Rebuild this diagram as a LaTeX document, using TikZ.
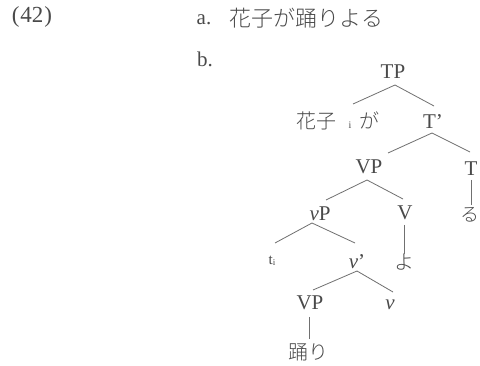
\documentclass[tikz,border=0pt]{standalone}
\usepackage{fontspec}
\setmainfont{Liberation Serif}
\newfontfamily\jp{Noto Sans CJK JP Light}
\usetikzlibrary{calc}
\definecolor{txt}{HTML}{4A4A4A}
\definecolor{ln}{HTML}{707070}
\begin{document}
\begin{tikzpicture}[x=1pt,y=-1pt,
  lab/.style={inner sep=0pt, text=txt, font=\fontsize{21}{21}\selectfont},
  jlab/.style={inner sep=0pt, text=txt, font=\jp\fontsize{20}{20}\selectfont},
  br/.style={draw=ln, line width=0.8pt}]
\useasboundingbox[fill=white] (0,0) rectangle (480,366);
% header
\node[lab, font=\fontsize{23}{23}\selectfont] (num) at (32,17) {(\kern1pt42\kern1pt)};
\node[lab] (a) at (204,20) {a.};
\node[jlab, font=\jp\fontsize{22}{22}\selectfont] (sent) at (306.5,18) {花子が踊りよる};
\node[lab] (b) at (205,59) {b.};
% tree nodes
\node[lab] (TP) at (393,72) {TP};
\node[jlab] (hana) at (338,121) {花子\hspace{12pt}{\rmfamily\fontsize{10}{10}\selectfont i}\hspace{8pt}が};
\node[lab] (Tbar) at (433,122) {T'};
\node[lab] (VPa) at (369,167) {VP};
\node[lab] (T) at (471,169) {T};
\node[jlab, font=\jp\fontsize{19}{19}\selectfont] (ru) at (470,215) {る};
\node[lab] (vP) at (320,214) {\textit{v}P};
\node[lab] (V) at (405,213) {V};
\node[jlab] (yo) at (404,262) {よ};
\node[lab] (t) at (272,261) {{\fontsize{15}{15}\selectfont t}{\fontsize{9}{9}\selectfont\raisebox{-1pt}{i}}};
\node[lab] (vbar) at (357,262) {\textit{v}'};
\node[lab] (VPb) at (310,303) {VP};
\node[lab] (v) at (390,305) {\textit{v}};
\node[jlab] (odori) at (308,352) {踊り};
% branches
\draw[br] ($(TP)+(2,13)$) -- ($(hana)+(15,-17)$);
\draw[br] ($(TP)+(2,13)$) -- ($(Tbar)+(1,-16)$);
\draw[br] ($(Tbar)+(-1,11)$) -- ($(VPa)+(19,-14)$);
\draw[br] ($(Tbar)+(-1,11)$) -- ($(T)+(-1,-17)$);
\draw[br] ($(T)+(0,11)$) -- ($(ru)+(1,-10)$);
\draw[br] ($(VPa)+(-2,13)$) -- ($(vP)+(6,-14)$);
\draw[br] ($(VPa)+(-2,13)$) -- ($(V)+(-2,-14)$);
\draw[br] ($(V)+(-1,12)$) -- ($(yo)+(0,-8)$);
\draw[br] ($(vP)+(-8,9)$) -- ($(t)+(3,-18)$);
\draw[br] ($(vP)+(-8,9)$) -- ($(vbar)+(-2,-19)$);
\draw[br] ($(vbar)+(0,9)$) -- ($(VPb)+(3,-13)$);
\draw[br] ($(vbar)+(0,9)$) -- ($(v)+(3,-13)$);
\draw[br] ($(VPb)+(-1,14)$) -- ($(odori)+(1,-13)$);
\end{tikzpicture}
\end{document}
